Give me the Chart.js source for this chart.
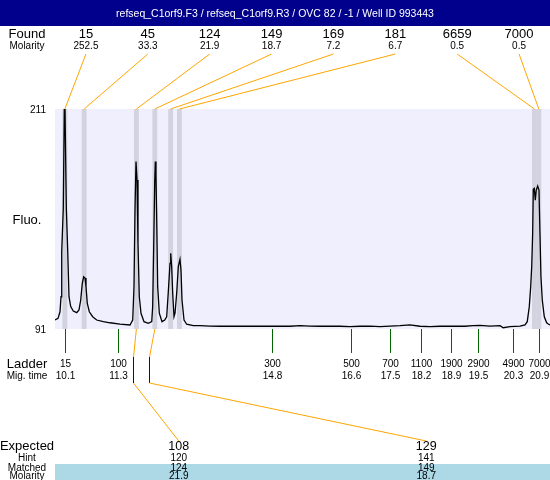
<!DOCTYPE html>
<html>
<head>
<meta charset="utf-8">
<script src="https://cdn.jsdelivr.net/npm/chart.js@4.4.1/dist/chart.umd.min.js"></script>
<style>
  body { margin: 0; background: #fff; }
  #wrap { width: 550px; height: 480px; position: relative; }
</style>
</head>
<body>
<div id="wrap"><canvas id="chart"></canvas></div>
<script>
// electropherogram trace (migration time in min, fluorescence)
const traceTimes = [
    9.865, 9.934, 9.979, 10.002, 10.018, 10.054, 10.077, 10.093, 10.109, 10.123,
    10.155, 10.184, 10.223, 10.282, 10.360, 10.412, 10.451, 10.487, 10.519, 10.549,
    10.571, 10.601, 10.647, 10.724, 10.815, 10.966, 11.118, 11.346, 11.574, 11.636,
    11.665, 11.688, 11.711, 11.734, 11.756, 11.786, 11.825, 11.893, 11.991, 12.069,
    12.091, 12.114, 12.137, 12.151, 12.166, 12.182, 12.205, 12.242, 12.303, 12.365,
    12.410, 12.447, 12.486, 12.502, 12.524, 12.547, 12.577, 12.600, 12.638, 12.675,
    12.713, 12.736, 12.759, 12.805, 12.866, 13.016, 13.169, 13.397, 13.625, 13.853,
    14.081, 14.309, 14.536, 14.764, 14.992, 15.220, 15.448, 15.676, 15.904, 16.131,
    16.359, 16.587, 16.815, 17.043, 17.271, 17.499, 17.726, 17.954, 18.182, 18.410,
    18.638, 18.980, 19.207, 19.390, 19.549, 19.777, 20.005, 20.080, 20.233, 20.461,
    20.575, 20.627, 20.673, 20.705, 20.728, 20.750, 20.764, 20.787, 20.810, 20.832,
    20.864, 20.894, 20.916, 20.939, 20.969, 21.015, 21.069, 21.106, 21.145
];
const traceFluo = [
    95.9, 96.8, 100.4, 108.6, 133.2, 157.0, 211, 211, 211, 157.0,
    133.2, 108.6, 103.2, 100.8, 99.9, 101.4, 106.8, 115.9, 119.5, 118.8,
    114.1, 105.0, 100.4, 97.7, 95.9, 95.0, 94.4, 93.7, 93.2, 95.9,
    114.1, 155.9, 182.3, 172.3, 137.7, 108.6, 99.6, 95.0, 94.1, 95.0,
    103.2, 135.9, 170.5, 182.3, 175.0, 152.3, 114.1, 99.6, 95.0, 95.9,
    97.7, 111.3, 126.8, 132.3, 125.0, 110.5, 97.7, 99.6, 110.5, 125.0,
    129.0, 123.2, 106.8, 95.9, 93.6, 92.8, 92.8, 92.6, 92.5, 92.6,
    92.5, 92.6, 92.5, 92.5, 92.5, 92.5, 92.8, 92.6, 92.5, 92.6,
    92.5, 92.3, 92.5, 92.6, 92.3, 92.6, 92.8, 93.2, 92.5, 92.3,
    92.5, 92.6, 92.5, 92.8, 93.0, 92.6, 92.8, 91.7, 92.3, 92.6,
    93.2, 95.0, 103.2, 114.1, 125.0, 143.2, 167.2, 167.7, 161.3, 166.8,
    169.0, 166.8, 143.4, 119.5, 106.8, 97.7, 94.4, 93.7, 93.2
];

// found peaks
const foundSizes = [15, 45, 124, 149, 169, 181, 6659, 7000];
const foundMolarity = [252.5, 33.3, 21.9, 18.7, 7.2, 6.7, 0.5, 0.5];
const foundTimes = [10.09, 10.53, 11.72, 12.14, 12.50, 12.70, 20.79, 20.89];

// ladder
const ladderSizes = [15, 100, 300, 500, 700, 1100, 1900, 2900, 4900, 7000];
const ladderTimes = [10.1, 11.3, 14.8, 16.6, 17.5, 18.2, 18.9, 19.5, 20.3, 20.9];

// expected fragments
const expectedSizes = [108, 129];
const hintSizes = [120, 141];
const matchedSizes = [124, 149];
const matchedMolarity = [21.9, 18.7];

const yTicks = [91, 211];
const xRange = [9.865, 21.145];

const titleText = 'refseq_C1orf9.F3 / refseq_C1orf9.R3 / OVC 82 / -1 / Well ID 993443';

const FONT = '"Liberation Sans", Arial, sans-serif';
const ORANGE = '#ffa500';

function txt(ctx, s, x, y, size, align, color) {
    ctx.font = size + 'px ' + FONT;
    ctx.textAlign = align || 'center';
    ctx.textBaseline = 'middle';
    ctx.fillStyle = color || '#000';
    ctx.fillText(String(s), x, y);
}

function line(ctx, x1, y1, x2, y2, color) {
    ctx.beginPath();
    ctx.moveTo(x1, y1);
    ctx.lineTo(x2, y2);
    ctx.strokeStyle = color;
    ctx.lineWidth = 1;
    ctx.stroke();
}

// size -> migration time through the ladder
function sizeToTime(size) {
    for (let i = 0; i < ladderSizes.length - 1; i++) {
        if (size <= ladderSizes[i + 1]) {
            const f = (size - ladderSizes[i]) / (ladderSizes[i + 1] - ladderSizes[i]);
            return ladderTimes[i] + f * (ladderTimes[i + 1] - ladderTimes[i]);
        }
    }
    return ladderTimes[ladderTimes.length - 1];
}

function colCenter(area, i, n) {
    return area.left + (area.right - area.left) * (i + 0.5) / n;
}

const decorPlugin = {
    id: 'decor',
    beforeDraw(chart) {
        const ctx = chart.ctx;
        const a = chart.chartArea;
        ctx.save();
        ctx.fillStyle = '#efeffd';
        ctx.fillRect(a.left, a.top, a.right - a.left, a.bottom - a.top);
        ctx.restore();
    },
    beforeDatasetsDraw(chart) {
        const ctx = chart.ctx;
        const a = chart.chartArea;
        const xs = chart.scales.x;
        ctx.save();
        ctx.fillStyle = '#d3d3e0';
        foundTimes.forEach(t => {
            const x1 = xs.getPixelForValue(t - 0.055);
            const x2 = xs.getPixelForValue(t + 0.055);
            ctx.fillRect(x1, a.top, x2 - x1, a.bottom - a.top);
        });
        ctx.restore();
    },
    afterDraw(chart) {
        const ctx = chart.ctx;
        const a = chart.chartArea;
        const xs = chart.scales.x;
        const ys = chart.scales.y;
        const W = chart.width;
        ctx.save();

        // title bar
        ctx.fillStyle = '#00008c';
        ctx.fillRect(0, 0, W, 26);
        txt(ctx, titleText, W / 2, 14, 10.5, 'center', '#fff');

        // found row
        txt(ctx, 'Found', 27, 34, 13);
        txt(ctx, 'Molarity', 27, 46.5, 10);
        foundSizes.forEach((s, i) => {
            const cx = colCenter(a, i, foundSizes.length);
            txt(ctx, s, cx, 34, 13);
            txt(ctx, foundMolarity[i].toFixed(1), cx, 46.5, 10);
            line(ctx, cx, 54, xs.getPixelForValue(foundTimes[i]), a.top, ORANGE);
        });

        // y ticks
        yTicks.forEach(v => txt(ctx, v, 46, ys.getPixelForValue(v) + 1, 10, 'right'));
        txt(ctx, 'Fluo.', 27, 220, 13);

        // ladder
        txt(ctx, 'Ladder', 27, 364, 13);
        txt(ctx, 'Mig. time', 27, 376.5, 10);
        ladderSizes.forEach((s, i) => {
            const x = Math.round(xs.getPixelForValue(ladderTimes[i])) + 0.5;
            line(ctx, x, a.bottom, x, 353, '#006400');
            txt(ctx, s, x, 364, 10);
            txt(ctx, ladderTimes[i].toFixed(1), x, 376.5, 10);
        });

        // expected connectors
        matchedSizes.forEach((m, i) => {
            const fx = xs.getPixelForValue(foundTimes[foundSizes.indexOf(m)]);
            const hx = Math.round(xs.getPixelForValue(sizeToTime(hintSizes[i]))) + 0.5;
            const cx = colCenter(a, i, expectedSizes.length);
            line(ctx, fx, a.bottom, hx, 357, ORANGE);
            line(ctx, hx, 357, hx, 383, '#0000cc');
            line(ctx, hx, 383, cx, 441, ORANGE);
        });

        // expected table
        ctx.fillStyle = '#add8e6';
        ctx.fillRect(a.left, 464, a.right - a.left, 16);
        txt(ctx, 'Expected', 27, 446.5, 13);
        txt(ctx, 'Hint', 27, 458, 10);
        txt(ctx, 'Matched', 27, 468, 10);
        txt(ctx, 'Molarity', 27, 476.5, 10);
        expectedSizes.forEach((e, i) => {
            const cx = colCenter(a, i, expectedSizes.length);
            txt(ctx, e, cx, 446.5, 12.5);
            txt(ctx, hintSizes[i], cx, 458, 10);
            txt(ctx, matchedSizes[i], cx, 468, 10);
            txt(ctx, matchedMolarity[i].toFixed(1), cx, 476.5, 10);
        });

        ctx.restore();
    }
};

new Chart(document.getElementById('chart'), {
    type: 'scatter',
    data: {
        datasets: [{
            data: traceTimes.map((t, i) => ({ x: t, y: traceFluo[i] })),
            showLine: true,
            borderColor: '#000',
            borderWidth: 1.3,
            pointRadius: 0,
            tension: 0
        }]
    },
    options: {
        responsive: true,
        maintainAspectRatio: false,
        animation: false,
        devicePixelRatio: 1,
        layout: { padding: { left: 55, top: 109, right: 0, bottom: 151 } },
        scales: {
            x: { type: 'linear', min: xRange[0], max: xRange[1], display: false },
            y: { type: 'linear', min: yTicks[0], max: yTicks[1], display: false }
        },
        plugins: {
            legend: { display: false },
            tooltip: { enabled: false },
            title: { display: false }
        }
    },
    plugins: [decorPlugin]
});
</script>
</body>
</html>
